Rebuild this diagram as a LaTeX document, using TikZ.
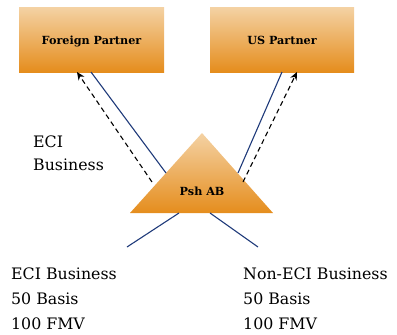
\documentclass[tikz,border=0pt]{standalone}
\usepackage{fontspec}
\setmainfont{DejaVu Serif}
\usetikzlibrary{arrows.meta}
\definecolor{peachtop}{HTML}{F4D2A4}
\definecolor{orangebot}{HTML}{E58D1D}
\definecolor{navy}{HTML}{1F3A7A}
\tikzset{
  partner/.style={top color=peachtop, bottom color=orangebot, draw=none},
  boxlabel/.style={font=\bfseries\fontsize{11.2}{12}\selectfont, inner sep=0pt, anchor=base},
  solidlink/.style={draw=navy, line width=1.1pt},
  dashlink/.style={draw=black, line width=1.1pt, dashed, dash pattern=on 5pt off 3.5pt, -{Stealth[length=8pt,width=7pt]}},
  plaintext/.style={font=\fontsize{15.8}{25}\selectfont, align=left, inner sep=0pt, anchor=base west}
}
\begin{document}
\begin{tikzpicture}[x=1pt, y=-1pt]
\useasboundingbox (0,0) rectangle (397,335);

% partner boxes
\shade[partner] (19,7) rectangle (164,72);
\shade[partner] (210,7) rectangle (354,72);
\node[boxlabel] (fp) at (91.5,44) {Foreign Partner};
\node[boxlabel] (usp) at (282,44) {US Partner};

% partnership triangle
\shade[partner] (202,133) -- (273,213) -- (130,213) -- cycle;
\node[boxlabel] (psh) at (202,195) {Psh AB};

% link end points
\coordinate (fpS) at (91,72);
\coordinate (fpA) at (77,72);
\coordinate (uspS) at (282,72);
\coordinate (uspA) at (297,72);
\coordinate (triL) at (166,173);
\coordinate (triLd) at (152,182);
\coordinate (triR) at (238,173);
\coordinate (triRd) at (243,182);
\coordinate (baseL) at (179,213);
\coordinate (baseR) at (210,213);
\coordinate (legL) at (127,247);
\coordinate (legR) at (258,247);

% ownership lines
\draw[solidlink] (fpS) -- (triL);
\draw[solidlink] (uspS) -- (triR);
\draw[solidlink] (baseL) -- (legL);
\draw[solidlink] (baseR) -- (legR);

% allocations
\draw[dashlink] (triLd) -- (fpA);
\draw[dashlink] (triRd) -- (uspA);

% labels (anchored at the baseline of the last line)
\node[plaintext, font=\fontsize{15.8}{23}\selectfont] (eci) at (33,170) {ECI\\Business};
\node[plaintext] (lasset) at (11,329) {ECI Business\\50 Basis\\100 FMV};
\node[plaintext] (rasset) at (243,329) {Non-ECI Business\\50 Basis\\100 FMV};
\end{tikzpicture}
\end{document}
